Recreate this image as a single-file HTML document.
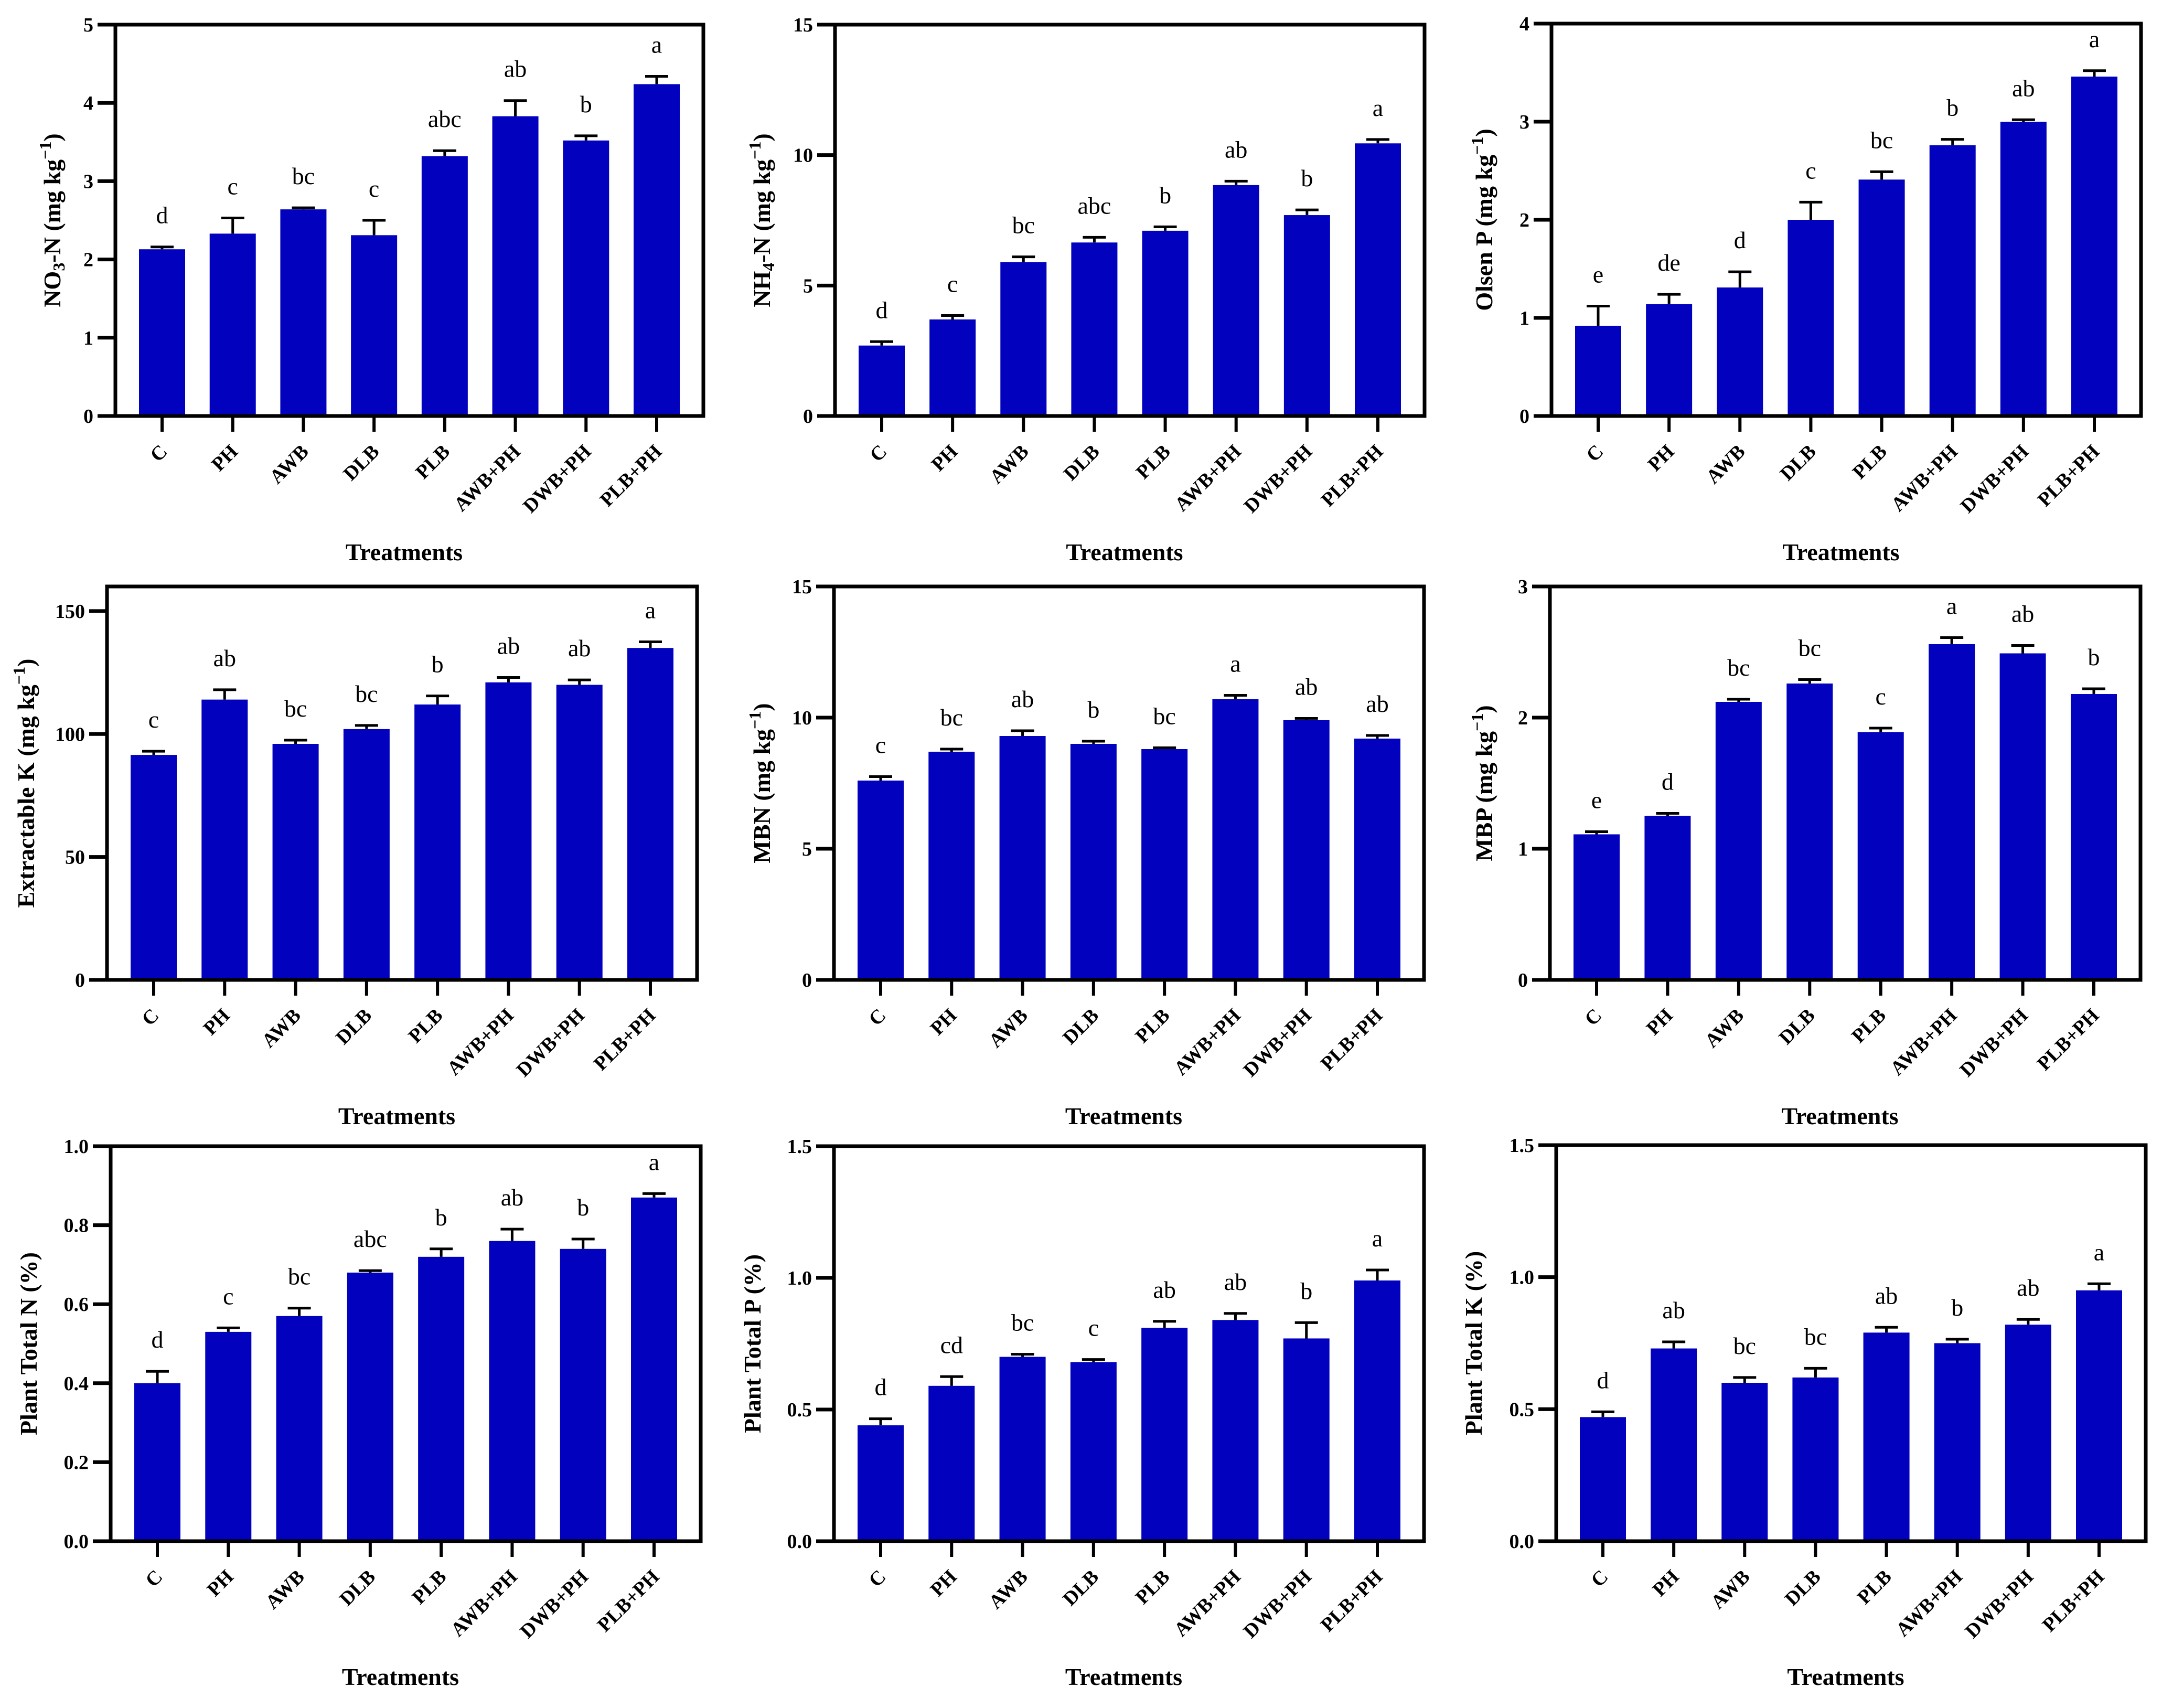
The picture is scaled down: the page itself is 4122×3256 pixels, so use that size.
<!DOCTYPE html>
<html><head><meta charset="utf-8"><style>
html,body{margin:0;padding:0;background:#fff;}
svg{display:block;}
svg text{font-family:"Liberation Serif","DejaVu Serif",serif;fill:#000;}
</style></head><body>
<svg id="fig" width="4122" height="3256" viewBox="0 0 4122 3256" xmlns="http://www.w3.org/2000/svg" font-family="'Liberation Serif', 'DejaVu Serif', serif"></svg>
<script>
const categories = ["C","PH","AWB","DLB","PLB","AWB+PH","DWB+PH","PLB+PH"];

const p1Values = [2.13,2.33,2.64,2.31,3.32,3.83,3.52,4.24];
const p1Errors = [0.03,0.2,0.02,0.19,0.07,0.2,0.06,0.1];
const p1Letters = ["d","c","bc","c","abc","ab","b","a"];
const p1Ticks = [0,1,2,3,4,5];

const p2Values = [2.7,3.7,5.9,6.65,7.1,8.85,7.7,10.45];
const p2Errors = [0.15,0.15,0.2,0.2,0.15,0.15,0.2,0.15];
const p2Letters = ["d","c","bc","abc","b","ab","b","a"];
const p2Ticks = [0,5,10,15];

const p3Values = [0.92,1.14,1.31,2.0,2.41,2.76,3.0,3.46];
const p3Errors = [0.2,0.1,0.16,0.18,0.08,0.06,0.02,0.06];
const p3Letters = ["e","de","d","c","bc","b","ab","a"];
const p3Ticks = [0,1,2,3,4];

const p4Values = [91.5,114,96,102,112,121,120,135];
const p4Errors = [1.5,4,1.5,1.5,3.5,2,2,2.5];
const p4Letters = ["c","ab","bc","bc","b","ab","ab","a"];
const p4Ticks = [0,50,100,150];

const p5Values = [7.6,8.7,9.3,9.0,8.8,10.7,9.9,9.2];
const p5Errors = [0.15,0.1,0.2,0.1,0.05,0.15,0.07,0.12];
const p5Letters = ["c","bc","ab","b","bc","a","ab","ab"];
const p5Ticks = [0,5,10,15];

const p6Values = [1.11,1.25,2.12,2.26,1.89,2.56,2.49,2.18];
const p6Errors = [0.02,0.02,0.02,0.03,0.03,0.05,0.06,0.04];
const p6Letters = ["e","d","bc","bc","c","a","ab","b"];
const p6Ticks = [0,1,2,3];

const p7Values = [0.40,0.53,0.57,0.68,0.72,0.76,0.74,0.87];
const p7Errors = [0.03,0.01,0.02,0.005,0.02,0.03,0.025,0.01];
const p7Letters = ["d","c","bc","abc","b","ab","b","a"];
const p7Ticks = [0.0,0.2,0.4,0.6,0.8,1.0];

const p8Values = [0.44,0.59,0.70,0.68,0.81,0.84,0.77,0.99];
const p8Errors = [0.025,0.035,0.01,0.01,0.025,0.025,0.06,0.04];
const p8Letters = ["d","cd","bc","c","ab","ab","b","a"];
const p8Ticks = [0.0,0.5,1.0,1.5];

const p9Values = [0.47,0.73,0.60,0.62,0.79,0.75,0.82,0.95];
const p9Errors = [0.02,0.025,0.02,0.035,0.02,0.015,0.02,0.025];
const p9Letters = ["d","ab","bc","bc","ab","b","ab","a"];
const p9Ticks = [0.0,0.5,1.0,1.5];

const NS = "http://www.w3.org/2000/svg";
const svg = document.getElementById("fig");
function mk(tag, attrs, parent){
  const e = document.createElementNS(NS, tag);
  for (const k in attrs) e.setAttribute(k, attrs[k]);
  (parent||svg).appendChild(e);
  return e;
}
const FF = "'Liberation Serif', 'DejaVu Serif', serif";

function drawPanel(id, box, yMax, values, errors, letters, ticks, tickFmt, titleParts, titleX, xTitleY){
  const [L,T,R,B] = box;
  const g = mk("g", {"font-family":FF});
  
  
  const y = v => B - (v / yMax) * (B - T);
  const pitch = (R - L - 178) / 7;
  const x = i => L + 89 + i * pitch;
  const bw = 88;

  values.forEach((v,i)=>{
    const r = mk("rect", {x:x(i)-bw/2, y:y(v), width:bw, height:B-y(v), fill:"#0202BE"}, g);
    
    
    const top = y(v + errors[i]);
    const eb = mk("path", {d:`M${x(i)} ${y(v)} V${top} M${x(i)-22} ${top} H${x(i)+22}`, stroke:"#000", "stroke-width":5, fill:"none"}, g);
    
    
    const t = mk("text", {x:x(i), y:top-45, "text-anchor":"middle", "font-size":46, "font-family":FF}, g);
    t.textContent = letters[i];
    
    
  });

  const fr = mk("path", {d:`M${L} ${B} V${T} H${R} V${B} Z`, stroke:"#000", "stroke-width":7, fill:"none"}, g);
  
  

  ticks.forEach(tv=>{
    const ty = y(tv);
    mk("line", {x1:L-34, x2:L, y1:ty, y2:ty, stroke:"#000", "stroke-width":7}, g);
    const lab = mk("text", {x:L-42, y:ty+13, "text-anchor":"end", "font-size":38, "font-weight":"bold", "font-family":FF}, g);
    lab.textContent = tickFmt(tv);
    
    
  });

  categories.forEach((c,i)=>{
    mk("line", {x1:x(i), x2:x(i), y1:B, y2:B+30, stroke:"#000", "stroke-width":6}, g);
    const lab = mk("text", {x:x(i)+12, y:B+70, "text-anchor":"end", "font-size":38, "font-weight":"bold", "font-family":FF,
      transform:`rotate(-45 ${x(i)+12} ${B+70})`}, g);
    lab.textContent = c;
    
    
  });

  const xt = mk("text", {x:(L+R)/2 - 10, y:xTitleY, "text-anchor":"middle", "font-size":46, "font-weight":"bold", "font-family":FF}, g);
  xt.textContent = "Treatments";
  
  

  const cy = (T+B)/2;
  const yt = mk("text", {x:titleX, y:cy, "text-anchor":"middle", "font-size":46, "font-weight":"bold", "font-family":FF,
    transform:`rotate(-90 ${titleX} ${cy})`}, g);
  
  
  titleParts.forEach(p=>{
    const ts = mk("tspan", {}, yt);
    if (p.sub) { ts.setAttribute("baseline-shift","-25%"); ts.setAttribute("font-size","32"); }
    if (p.sup) { ts.setAttribute("baseline-shift","super"); ts.setAttribute("font-size","32"); }
    ts.textContent = p.t;
  });
}

const f0 = v => String(v);
const f1 = v => v.toFixed(1);
const mgkg = [{t:" (mg kg"},{t:"−1",sup:true},{t:")"}];

drawPanel("no3n", [220,47,1341,793], 5, p1Values, p1Errors, p1Letters, p1Ticks, f0,
  [{t:"NO"},{t:"3",sub:true},{t:"-N"}].concat(mgkg), 115, 1068);
drawPanel("nh4n", [1592,47,2716,793], 15, p2Values, p2Errors, p2Letters, p2Ticks, f0,
  [{t:"NH"},{t:"4",sub:true},{t:"-N"}].concat(mgkg), 1468, 1068);
drawPanel("olsen-p", [2958,45,4082,793], 4, p3Values, p3Errors, p3Letters, p3Ticks, f0,
  [{t:"Olsen P"}].concat(mgkg), 2845, 1068);
drawPanel("extractable-k", [204,1118,1329,1868], 160, p4Values, p4Errors, p4Letters, p4Ticks, f0,
  [{t:"Extractable K"}].concat(mgkg), 65, 2143);
drawPanel("mbn", [1590,1118,2715,1868], 15, p5Values, p5Errors, p5Letters, p5Ticks, f0,
  [{t:"MBN"}].concat(mgkg), 1468, 2143);
drawPanel("mbp", [2955,1118,4081,1868], 3, p6Values, p6Errors, p6Letters, p6Ticks, f0,
  [{t:"MBP"}].concat(mgkg), 2845, 2143);
drawPanel("plant-total-n", [211,2185,1336,2938], 1, p7Values, p7Errors, p7Letters, p7Ticks, f1,
  [{t:"Plant Total N (%)"}], 70, 3212);
drawPanel("plant-total-p", [1590,2185,2715,2938], 1.5, p8Values, p8Errors, p8Letters, p8Ticks, f1,
  [{t:"Plant Total P (%)"}], 1450, 3212);
drawPanel("plant-total-k", [2967,2183,4091,2938], 1.5, p9Values, p9Errors, p9Letters, p9Ticks, f1,
  [{t:"Plant Total K (%)"}], 2825, 3212);
</script>
</body></html>
